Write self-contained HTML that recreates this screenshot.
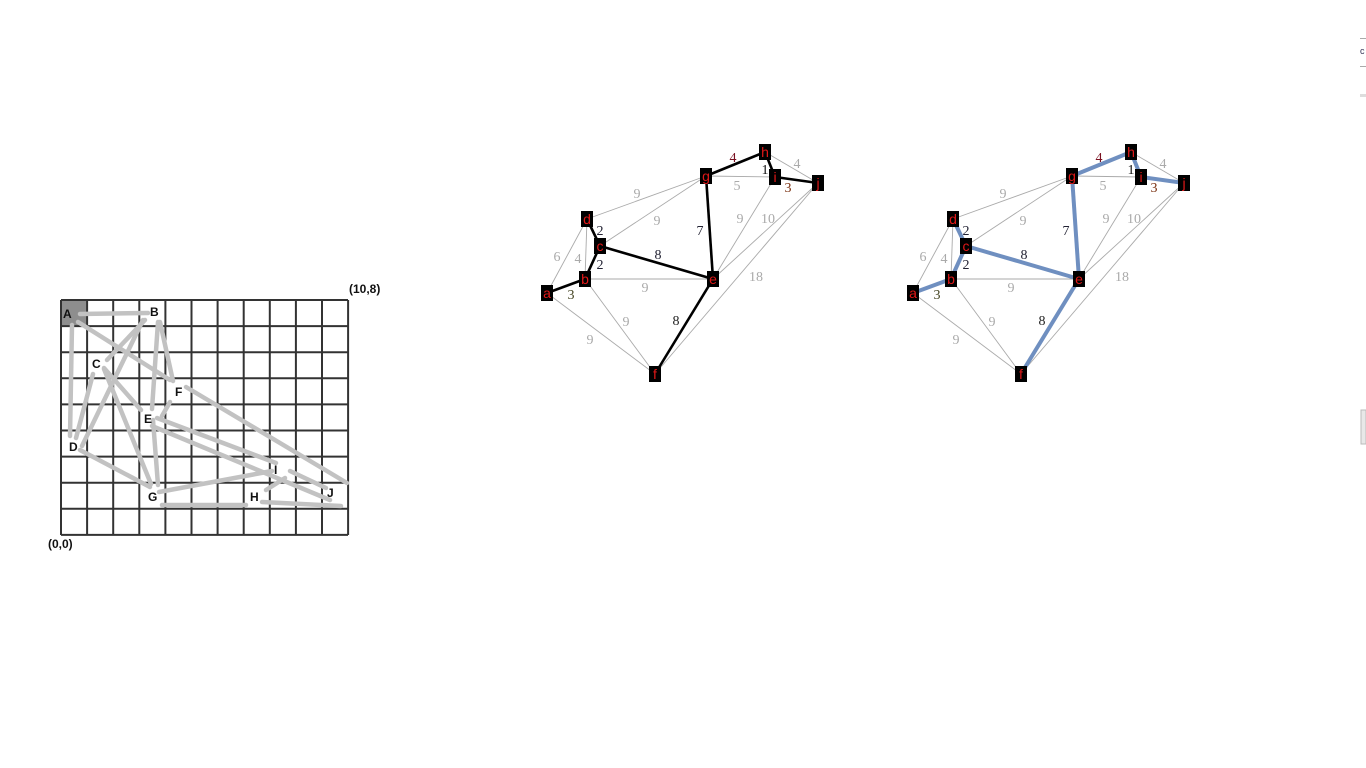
<!DOCTYPE html>
<html><head><meta charset="utf-8">
<style>
html,body{margin:0;padding:0;background:#fff;width:1366px;height:768px;overflow:hidden;font-family:"Liberation Sans",sans-serif}
svg{position:absolute;left:0;top:0}
</style></head>
<body>
<svg id="s" width="1366" height="768">
  <g id="grid"></g>
  <g id="gedges"></g>
  <g id="glabels"></g>
  <g id="graph1"></g>
  <g id="graph2"></g>
  <text x="349" y="293" font-size="12" font-weight="bold" fill="#111">(10,8)</text>
  <text x="48" y="548" font-size="12" font-weight="bold" fill="#111">(0,0)</text>
  <rect x="1360" y="38" width="6" height="1" fill="#aaa"/>
  <text x="1360" y="54" font-size="9" fill="#335">c</text>
  <rect x="1360" y="66" width="6" height="1" fill="#aaa"/>
  <rect x="1360" y="94" width="6" height="3" fill="#ddd"/>
  <rect x="1361" y="410" width="5" height="34" fill="#e8e8e8" stroke="#bbb"/>
</svg>
<script>
const NS="http://www.w3.org/2000/svg";
function mk(t,a,p){const e=document.createElementNS(NS,t);for(const k in a)e.setAttribute(k,a[k]);p.appendChild(e);return e;}
const grid=document.getElementById('grid');
const hl=mk('rect',{x:61,y:300,width:26,height:26,fill:'#8e8e8e'},grid);


for(let i=0;i<=11;i++){const x=61+i*26.1;const l=mk('line',{x1:x,y1:300,x2:x,y2:535,stroke:'#333','stroke-width':2},grid);

}
for(let j=0;j<=9;j++){const y=300+j*26.1;const l=mk('line',{x1:61,y1:y,x2:348,y2:y,stroke:'#333','stroke-width':2},grid);

}
const gridSegs=[[80,314,148,313],[78,322,170,380],[72,325,70,436],[145,320,107,360],[143,320,82,446],[158,322,152,409],[160,322,173,381],[93,374,76,438],[104,369,151,484],[104,368,141,410],[170,402,162,416],[153,420,158,485],[157,418,276,463],[152,426,330,500],[186,387,347,483],[80,450,150,487],[159,492,272,471],[162,505,246,505],[262,502,341,506],[290,471,326,488],[266,490,285,478]];
const ge=document.getElementById('gedges');
gridSegs.forEach(s=>{const l=mk('line',{x1:s[0],y1:s[1],x2:s[2],y2:s[3],stroke:'#c2c2c2','stroke-width':4.5,'stroke-linecap':'round'},ge);

});
const gl=[['A',63,318],['B',150,316],['C',92,368],['F',175,396],['E',144,423],['D',69,451],['I',274,474],['G',148,501],['H',250,501],['J',327,497]];
const glg=document.getElementById('glabels');
gl.forEach(g=>{const t=mk('text',{x:g[1],y:g[2],'font-size':12,'font-weight':'bold',fill:'#111'},glg);t.textContent=g[0];

});
const nodeNames=['a','b','c','d','e','f','g','h','i','j'];
const nodeX=[547,585,600,587,713,655,706,765,775,818];
const nodeY=[293,279,246,219,279,374,176,152,177,183];
const grayEdges=[['a','d'],['a','f'],['b','d'],['b','e'],['b','f'],['d','g'],['c','g'],['g','i'],['h','j'],['i','e'],['e','j'],['f','j']];
const treeEdges=[['a','b'],['b','c'],['c','d'],['c','e'],['e','g'],['e','f'],['g','h'],['h','i'],['i','j']];
const weights=['4','1','4','5','3','9','9','7','9','10','2','8','6','4','2','9','18','3','9','8','9'];
const wx=[733,765,797,737,788,637,657,700,740,768,600,658,557,578,600,645,756,571,626,676,590];
const wy=[162,174,168,190,192,198,225,235,223,223,235,259,261,263,269,292,281,299,326,325,344];
const wc=['#7a1020','#111','#aaa','#aaa','#7a3010','#aaa','#aaa','#223','#aaa','#aaa','#223','#223','#aaa','#aaa','#223','#aaa','#aaa','#442','#aaa','#222','#aaa'];
function pos(n,dx){const i=nodeNames.indexOf(n);return [nodeX[i]+dx,nodeY[i]];}
function draw(gid,dx,treeColor,treeW){
  const g=document.getElementById(gid);
  grayEdges.forEach(e=>{const p=pos(e[0],dx),q=pos(e[1],dx);
    const l=mk('line',{x1:p[0],y1:p[1],x2:q[0],y2:q[1],stroke:'#aaa','stroke-width':0.9},g);
    
    });
  treeEdges.forEach(e=>{const p=pos(e[0],dx),q=pos(e[1],dx);
    const l=mk('line',{x1:p[0],y1:p[1],x2:q[0],y2:q[1],stroke:treeColor,'stroke-width':treeW},g);
    
    });
  weights.forEach((w,k)=>{const t=mk('text',{x:wx[k]+dx,y:wy[k],'font-size':14,fill:wc[k],'font-family':'Liberation Serif, serif','text-anchor':'middle'},g);t.textContent=w;
    
    });
  nodeNames.forEach((n,i)=>{const x=nodeX[i]+dx,y=nodeY[i];
    const r=mk('rect',{x:x-6,y:y-8,width:12,height:16,fill:'#000'},g);
    
    
    const t=mk('text',{x:x,y:y+5,'font-size':14,fill:'#e01818','text-anchor':'middle'},g);t.textContent=n;
    
    });
}
draw('graph1',0,'#000',2.6);
draw('graph2',366,'#6f8fc0',4);
</script>
</body></html>
